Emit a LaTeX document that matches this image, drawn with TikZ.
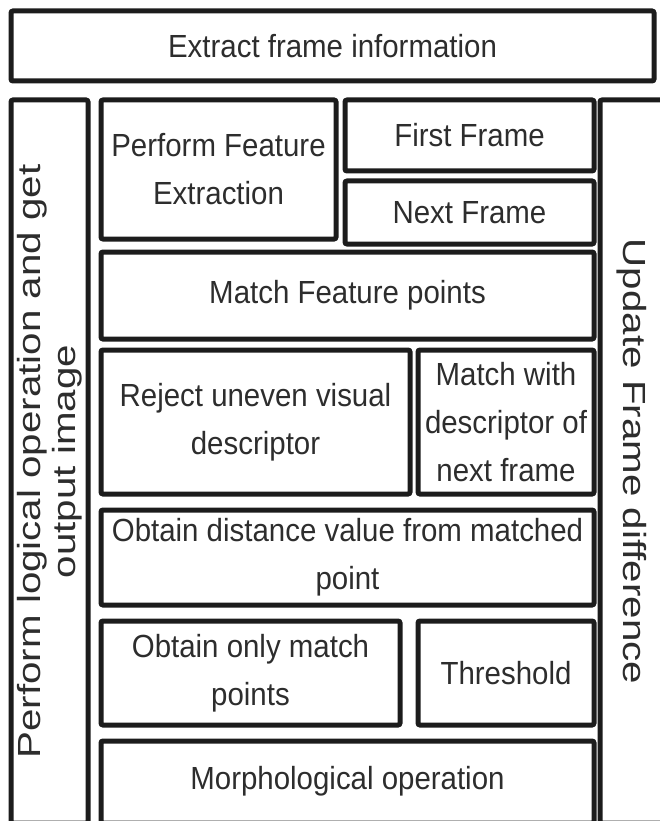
\documentclass[tikz,border=0pt]{standalone}
\usepackage{fontspec}
% narrow face for the horizontal labels, wide face for the side columns
\newfontfamily\hfont[FakeStretch=0.92]{Liberation Sans}
\newfontfamily\vfont[FakeStretch=1.26]{Liberation Sans}
\definecolor{ink}{RGB}{28,28,28}
\definecolor{txt}{RGB}{45,45,45}
\tikzset{
  stage/.style={draw=ink, line width=5pt, rounded corners=2pt, rectangle,
    inner sep=0pt, text=txt, align=center,
    font=\hfont\fontsize{32}{48}\selectfont},
  sidecol/.style={stage, font=\vfont\fontsize{32}{35}\selectfont},
  caption/.style={text=txt, inner sep=0pt, font=\hfont\fontsize{32}{48}\selectfont},
}
\begin{document}
\begin{tikzpicture}[x=1pt,y=-1pt]
\useasboundingbox (0,0) rectangle (660,821);
\clip (0,0) rectangle (660,821);

% header
\node[stage, minimum width=643pt, minimum height=70pt] (extract) at (332.5,46) {Extract frame information};

% side columns
\node[sidecol, rotate=90, minimum width=723pt, minimum height=77pt] (logic) at (49.5,461.5)
  {Perform logical operation and get\\output image};
\node[sidecol, rotate=-90, minimum width=723pt, minimum height=63pt] (update) at (631.5,461.5)
  {Update Frame difference};

% central stack
\node[stage, minimum width=235pt, minimum height=139pt] (feat) at (218.5,169.5) {Perform Feature\\Extraction};
\node[stage, minimum width=249pt, minimum height=71pt] (first) at (469.5,135.5) {First Frame};
\node[stage, minimum width=249pt, minimum height=63pt] (next) at (469.5,212.5) {Next Frame};
\node[stage, minimum width=493pt, minimum height=87pt] (matchfp) at (347.5,295.5) {Match Feature points};
\node[stage, minimum width=309pt, minimum height=144pt] (reject) at (255.5,422) {Reject uneven visual\\descriptor};
\node[stage, minimum width=176pt, minimum height=144pt] (matchdesc) at (506,422) {Match with\\descriptor of\\next frame};
\node[stage, minimum width=493pt, minimum height=95pt] (dist) at (347.5,557.5) {Obtain distance value from matched\\point};
\node[stage, minimum width=299pt, minimum height=104pt] (only) at (250.5,673) {Obtain only match\\points};
\node[stage, minimum width=176pt, minimum height=104pt] (thresh) at (506,673) {Threshold};
\node[stage, minimum width=493pt, minimum height=82pt] (morph) at (347.5,782) {};
\node[caption] (morphtxt) at (347.5,781) {Morphological operation};
\end{tikzpicture}
\end{document}
